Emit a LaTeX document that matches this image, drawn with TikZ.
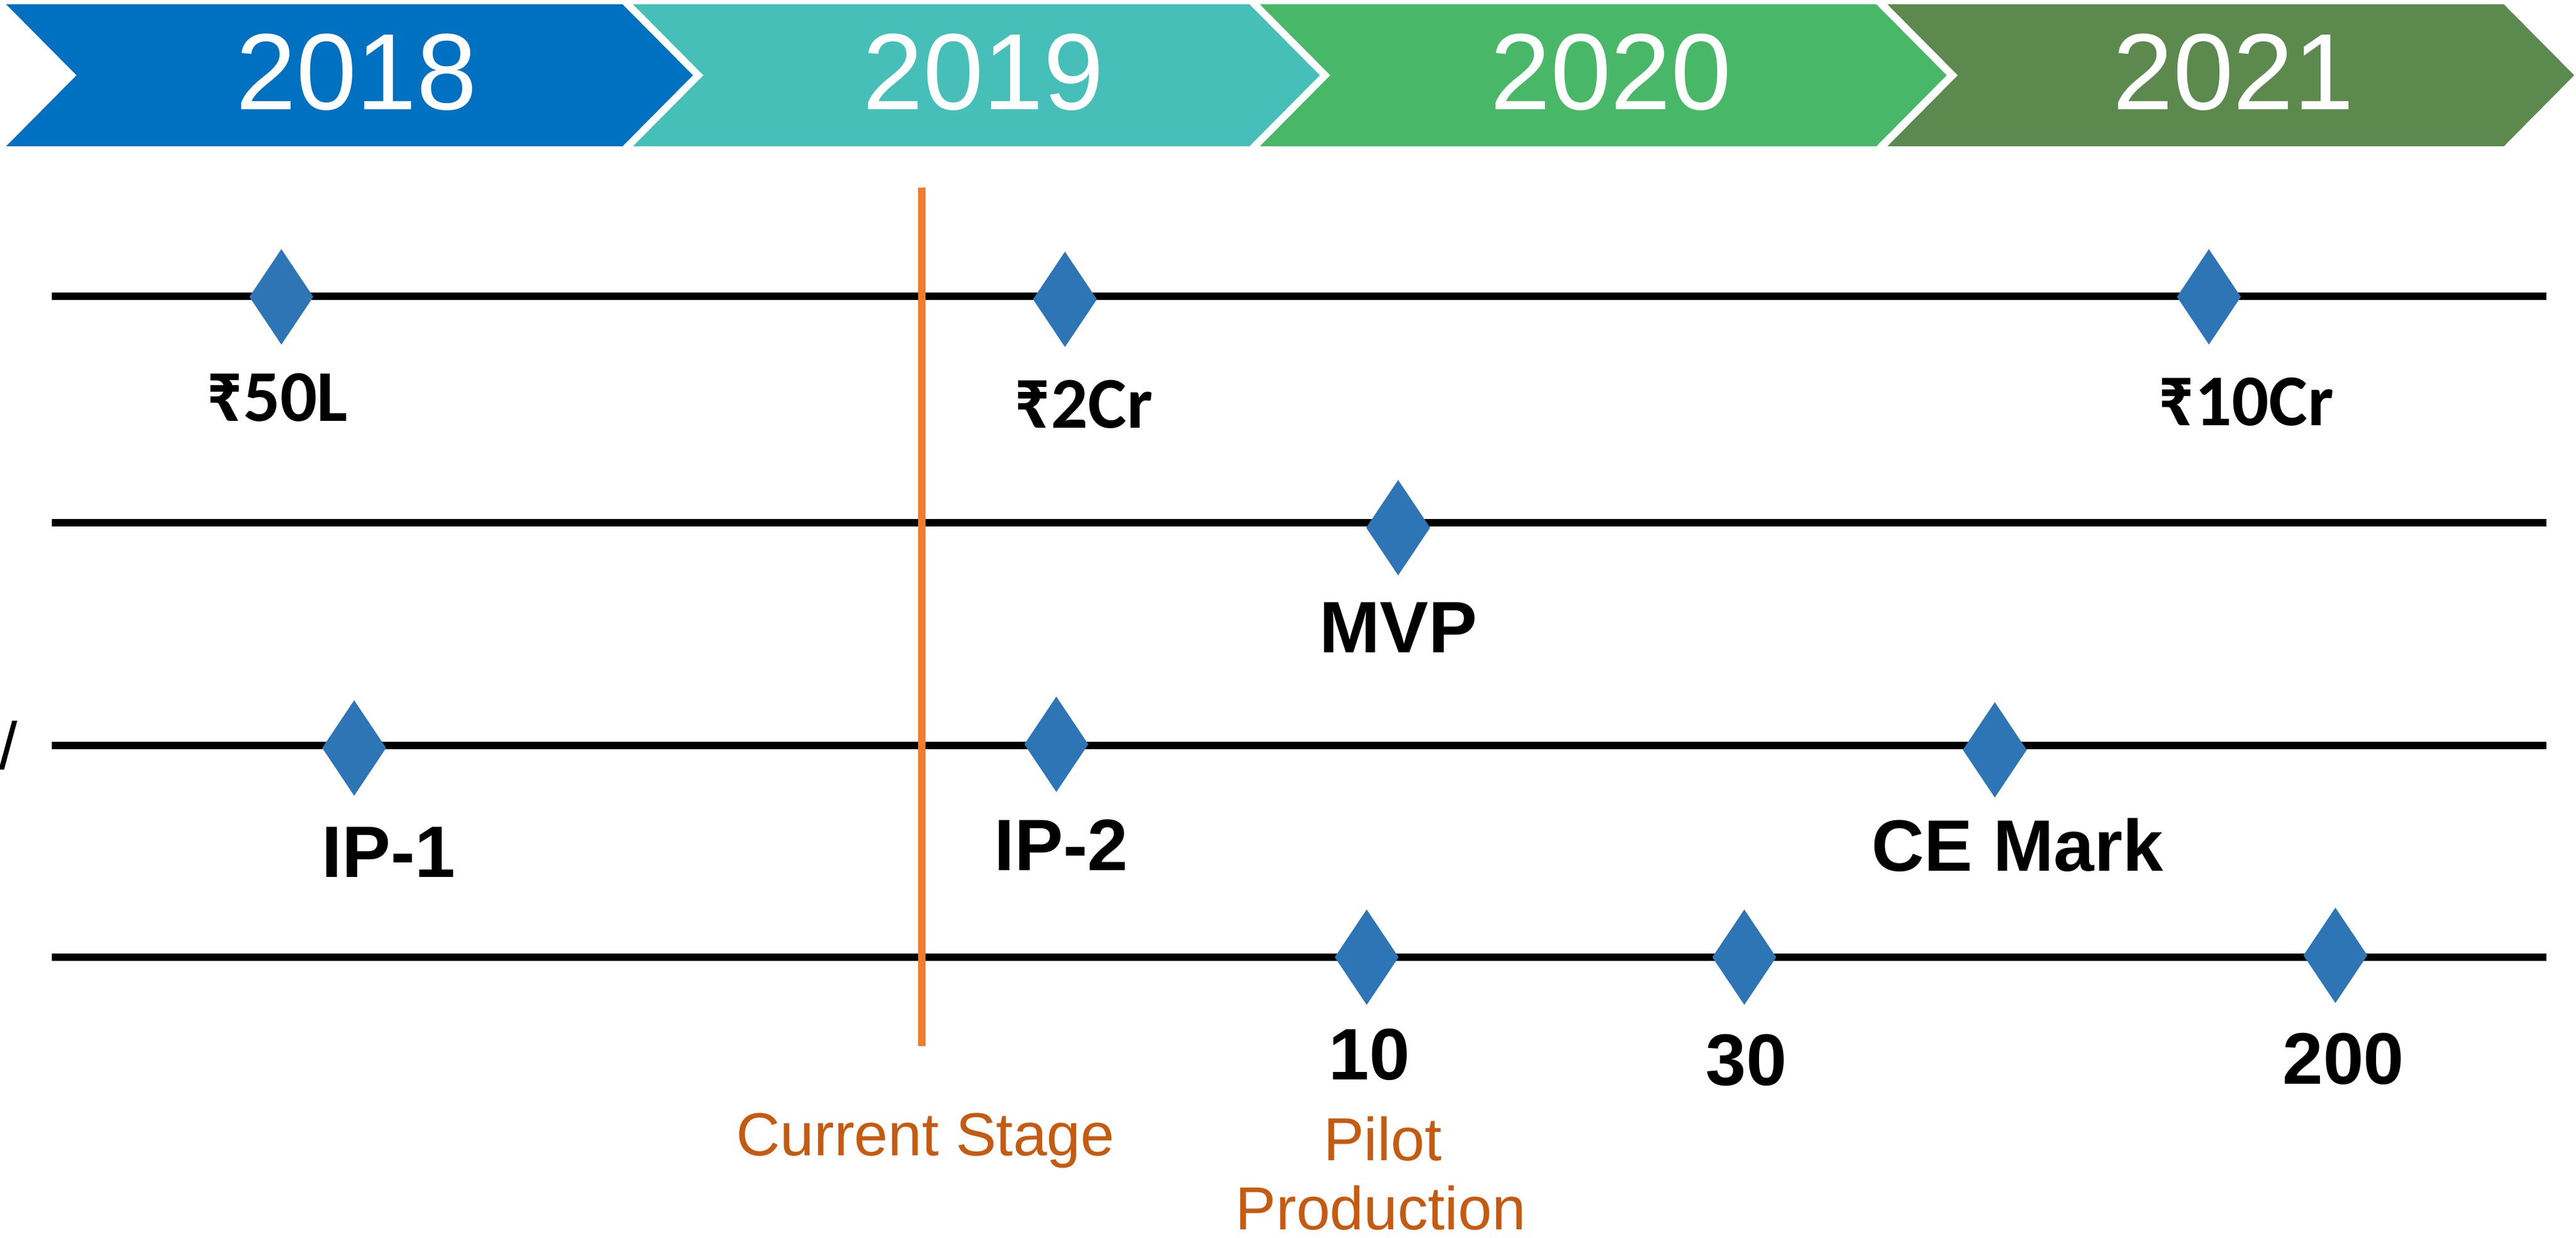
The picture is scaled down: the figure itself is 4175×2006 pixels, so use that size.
\documentclass[tikz,border=0pt]{standalone}
\usepackage{fontspec}
\setmainfont{Liberation Sans}
\newfontfamily\calfont{Carlito}
\usetikzlibrary{shapes.geometric}
\definecolor{c18}{RGB}{0,112,192}
\definecolor{c19}{RGB}{70,191,185}
\definecolor{c20}{RGB}{72,184,104}
\definecolor{c21}{RGB}{92,138,78}
\definecolor{dia}{RGB}{46,117,182}
\definecolor{orl}{RGB}{237,125,49}
\definecolor{ort}{RGB}{197,90,17}
\begin{document}
\begin{tikzpicture}[x=0.01cm,y=-0.01cm,
  rowline/.style={line width=3.41pt, black},
  stageline/.style={line width=3.41pt, orl},
  ms/.style={diamond, fill=dia, draw=none, inner sep=0pt, minimum width=1.04cm, minimum height=1.55cm},
  yeartxt/.style={anchor=base, text=white, inner sep=0pt, font=\fontsize{50pt}{60pt}\selectfont},
  boldlbl/.style={anchor=base, inner sep=0pt, font=\fontsize{33.6pt}{40pt}\selectfont\bfseries},
  rslbl/.style={anchor=base, inner sep=0pt, font=\fontsize{33.6pt}{40pt}\selectfont\calfont\bfseries},
  orlbl/.style={anchor=base, inner sep=0pt, text=ort, font=\fontsize{28pt}{33pt}\selectfont},
]
\useasboundingbox (0,0) rectangle (4175,2006);
% year chevrons
\fill[c18] (10,7) -- (1009,7) -- (1123,122) -- (1009,237) -- (10,237) -- (124,122) -- cycle;
\fill[c19] (1026,7) -- (2025,7) -- (2139,122) -- (2025,237) -- (1026,237) -- (1140,122) -- cycle;
\fill[c20] (2042,7) -- (3041,7) -- (3155,122) -- (3041,237) -- (2042,237) -- (2156,122) -- cycle;
\fill[c21] (3059,7) -- (4058,7) -- (4172,122) -- (4058,237) -- (3059,237) -- (3173,122) -- cycle;
\node[yeartxt] (y18) at (578,178) {2018};
\node[yeartxt] (y19) at (1594,178) {2019};
\node[yeartxt] (y20) at (2611,178) {2020};
\node[yeartxt] (y21) at (3620,178) {2021};
% row lines
\coordinate (r1s) at (84,480);  \coordinate (r1e) at (4127,480);
\coordinate (r2s) at (84,847);  \coordinate (r2e) at (4127,847);
\coordinate (r3s) at (84,1208); \coordinate (r3e) at (4127,1208);
\coordinate (r4s) at (84,1551); \coordinate (r4e) at (4127,1551);
\draw[rowline] (r1s) -- (r1e);
\draw[rowline] (r2s) -- (r2e);
\draw[rowline] (r3s) -- (r3e);
\draw[rowline] (r4s) -- (r4e);
% current stage line
\coordinate (cst) at (1494,304);
\coordinate (csb) at (1494,1695);
\draw[stageline] (cst) -- (csb);
% milestones
\node[ms] (m1a) at (456,481) {};
\node[ms] (m1b) at (1726,485) {};
\node[ms] (m1c) at (3580,481) {};
\node[ms] (m2a) at (2266,855) {};
\node[ms] (m3a) at (574,1212) {};
\node[ms] (m3b) at (1712,1206) {};
\node[ms] (m3c) at (3233,1215) {};
\node[ms] (m4a) at (2215,1551) {};
\node[ms] (m4b) at (2827,1551) {};
\node[ms] (m4c) at (3785,1548) {};
% labels
\node[rslbl] (l1a) at (449,682) {₹50L};
\node[rslbl] (l1b) at (1756,693) {₹2Cr};
\node[rslbl] (l1c) at (3640,689) {₹10Cr};
\node[boldlbl] (l2a) at (2266,1057) {MVP};
\node[boldlbl] (l3a) at (630,1421) {IP-1};
\node[boldlbl] (l3b) at (1720,1410) {IP-2};
\node[boldlbl] (l3c) at (3270,1411) {CE Mark};
\node[boldlbl] (l4a) at (2219,1749) {10};
\node[boldlbl] (l4b) at (2830,1758) {30};
\node[boldlbl] (l4c) at (3798,1756) {200};
\node[orlbl] (cs) at (1500,1872) {Current Stage};
\node[orlbl] (pp1) at (2241,1880) {Pilot};
\node[orlbl] (pp2) at (2238,1992) {Production};
\node[anchor=base west, inner sep=0pt, font=\fontsize{30.7pt}{36pt}\selectfont] (sl) at (-2,1246) {/};
\end{tikzpicture}
\end{document}
